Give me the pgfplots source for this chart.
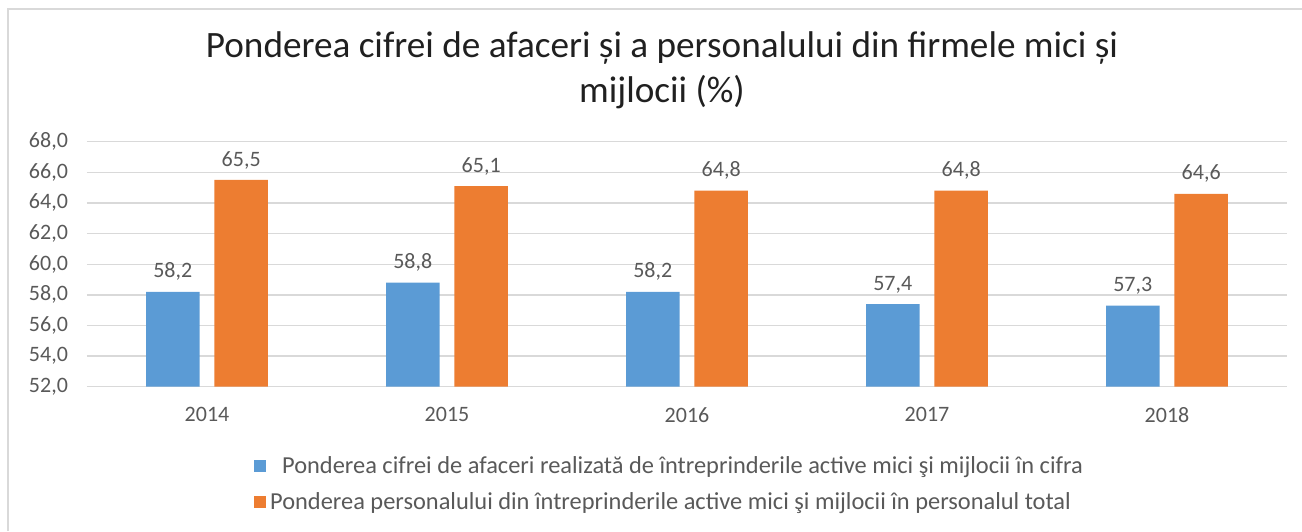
\documentclass[border=0pt]{standalone}
\usepackage{pgfplots}
\pgfplotsset{compat=1.18}
\usepackage{fontspec}
\setmainfont{Carlito}
\definecolor{cblue}{HTML}{5B9BD5}
\definecolor{corange}{HTML}{ED7D31}
\definecolor{ctext}{HTML}{595959}
\definecolor{cgrid}{HTML}{D9D9D9}
\definecolor{ctitle}{HTML}{202020}
\begin{document}
\begin{tikzpicture}
\useasboundingbox (-43.5pt,-72.15pt) rectangle (607.5pt,193.35pt);
\draw[cgrid, line width=0.8pt] (-39.5pt,-72.15pt) -- (-39.5pt,188.85pt) -- (607.5pt,188.85pt);
\node[font=\fontsize{18.6}{22}\selectfont, text=ctitle] at (287.5pt,169.35pt) {Ponderea cifrei de afaceri și a personalului din firmele mici și};
\node[font=\fontsize{18.6}{22}\selectfont, text=ctitle] at (287.5pt,147.35pt) {mijlocii (\%)};
\begin{axis}[
  at={(0,0)}, anchor=south west,
  scale only axis, width=600pt, height=122.5pt,
  xmin=-0.5, xmax=4.5, ymin=52, ymax=68,
  xtick={0,1,2,3,4}, xticklabels={2014,2015,2016,2017,2018},
  ytick={52,54,56,58,60,62,64,66,68},
  yticklabel style={xshift=-6pt, /pgf/number format/fixed, /pgf/number format/fixed zerofill, /pgf/number format/precision=1, /pgf/number format/use comma},
  /pgf/number format/assume math mode=true,
  ticklabel style={font=\fontsize{11}{13}\selectfont, text=ctext},
  xticklabel style={yshift=-2.5pt},
  axis line style={draw=none},
  major tick style={draw=none},
  ymajorgrids, major grid style={cgrid, line width=0.7pt},
  ybar, bar width=26.75pt,
  nodes near coords,
  nodes near coords style={font=\fontsize{11}{13}\selectfont, text=ctext, anchor=south, yshift=2pt,
    /pgf/number format/fixed, /pgf/number format/fixed zerofill, /pgf/number format/precision=1, /pgf/number format/use comma},
  legend style={draw=none, fill=none, at={(axis description cs:0.134,-0.25)}, anchor=north west,
    font=\fontsize{12.2}{14}\selectfont, text=ctext, row sep=4pt, cells={anchor=west}},
  legend cell align=left,
  area legend,
  legend image code/.code={\fill[#1] (0pt,-3pt) rectangle (6pt,3pt);},
]
\addplot[fill=cblue, draw=none, bar shift=-17.1pt] coordinates {(0,58.2) (1,58.8) (2,58.2) (3,57.4) (4,57.3)};
\addplot[fill=corange, draw=none, bar shift=17.1pt] coordinates {(0,65.5) (1,65.1) (2,64.8) (3,64.8) (4,64.6)};
\legend{\hspace{6pt}Ponderea cifrei de afaceri realizată de întreprinderile active mici şi mijlocii în cifra, Ponderea personalului din întreprinderile active mici şi mijlocii în personalul total}
\end{axis}
\end{tikzpicture}
\end{document}
